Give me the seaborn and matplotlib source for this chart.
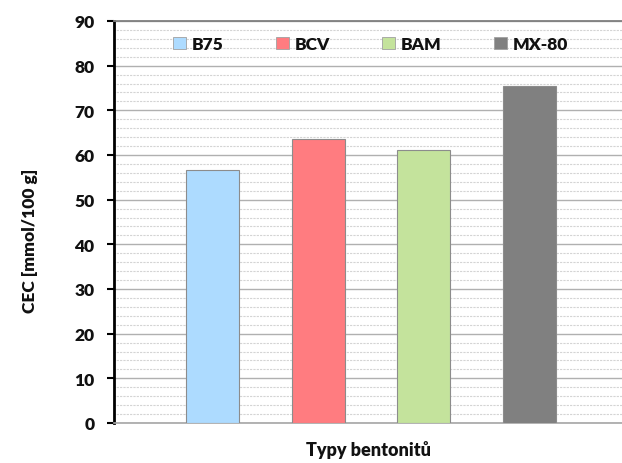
import matplotlib
matplotlib.use("Agg")
import matplotlib.pyplot as plt
from matplotlib.patches import Patch
from matplotlib.ticker import MultipleLocator
import seaborn as sns
import pandas as pd

categories = ["B75", "BCV", "BAM", "MX-80"]
values = [56.7, 63.6, 61.2, 75.5]
colors = ["#ADDBFF", "#FF7C80", "#C4E39C", "#808080"]
y_ticks = [0, 10, 20, 30, 40, 50, 60, 70, 80, 90]

sns.set_theme(style="white")
plt.rcParams['font.family'] = ['Lato', 'DejaVu Sans']
W = "heavy"

df = pd.DataFrame({"typ": categories, "cec": values})

fig = plt.figure(figsize=(6.22, 4.64), dpi=100)
ax = fig.add_axes([114/622, 1 - 424/464, 1 - 114/622, 402/464])

sns.barplot(data=df, x="typ", y="cec", hue="typ", palette=colors,
            width=0.5, legend=False, ax=ax, edgecolor="#8c8c8c",
            linewidth=0.8, saturation=1, zorder=3)

ax.set_ylim(0, 90)
ax.set_xlim(-0.932, 3.874)
ax.set_yticks(y_ticks)
ax.yaxis.set_minor_locator(MultipleLocator(2))
ax.grid(axis="y", which="major", color="#b0b0b0", linewidth=1.0, zorder=0)
ax.grid(axis="y", which="minor", color="#d4d4d4", linewidth=0.8,
        linestyle=(1, (2, 1)), zorder=0)
ax.set_axisbelow(True)

ax.set_xticks([])
ax.tick_params(axis="y", which="major", direction="out", length=5, width=1.5,
               color="black", left=True, labelsize=12.5, pad=9, labelcolor="#111111")
ax.tick_params(axis="y", which="minor", length=0, width=0)
for lbl in ax.get_yticklabels():
    lbl.set_fontweight(W)

ax.spines["left"].set_color("black")
ax.spines["left"].set_linewidth(2)
ax.spines["top"].set_visible(True)
ax.spines["top"].set_color("#7f7f7f")
ax.spines["top"].set_linewidth(1.3)
ax.spines["bottom"].set_color("#a6a6a6")
ax.spines["bottom"].set_linewidth(1.2)
ax.spines["right"].set_visible(False)

ax.set_xlabel("Typy bentonitů", fontsize=13, fontweight=W, labelpad=12, color="#111111")
ax.set_ylabel("CEC [mmol/100 g]", fontsize=12.5, fontweight=W, color="#111111")
ax.yaxis.set_label_coords(-0.15, 0.455)

handles = [Patch(facecolor=c, edgecolor="#a0a0a0", linewidth=0.6, label=l)
           for c, l in zip(colors, categories)]
leg = ax.legend(handles=handles, ncol=4, loc="center", bbox_to_anchor=(0.505, 0.943),
                frameon=False, handlelength=0.75, handleheight=0.75,
                handletextpad=0.35, columnspacing=3.0,
                prop={"size": 12.5, "weight": W, "family": ["Lato", "DejaVu Sans"]})
for t in leg.get_texts():
    t.set_color("#111111")

fig.savefig("out.png", dpi=100)
